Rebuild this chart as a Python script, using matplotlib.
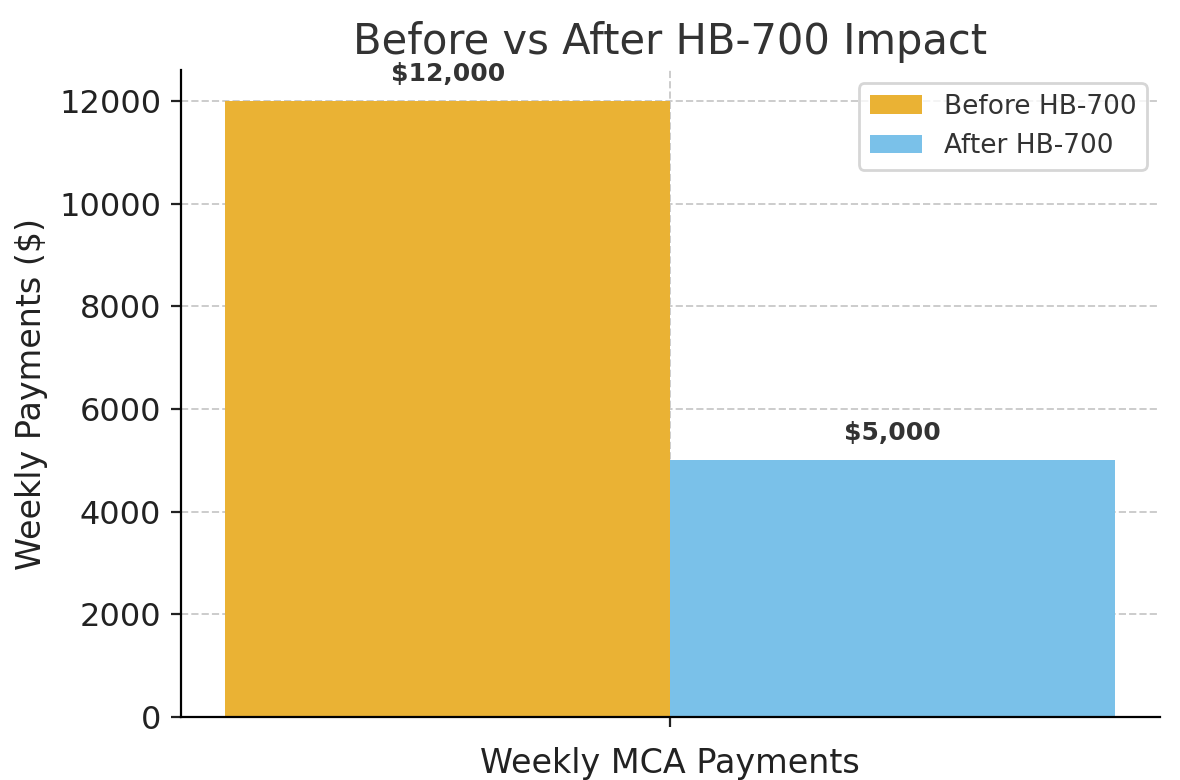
import matplotlib
matplotlib.use("Agg")
import matplotlib.pyplot as plt
import numpy as np

categories = ["Weekly MCA Payments"]
before = [12000]
after = [5000]
series_names = ["Before HB-700", "After HB-700"]

fig, ax = plt.subplots(figsize=(5.9, 3.9), dpi=200)
x = np.arange(len(categories))
w = 0.35
b1 = ax.bar(x - w/2, before, w, color="#EAB234", label=series_names[0])
b2 = ax.bar(x + w/2, after, w, color="#7AC1E9", label=series_names[1])
for bars in (b1, b2):
    for r in bars:
        ax.text(r.get_x() + r.get_width()/2, r.get_height() + 300, f"${r.get_height():,.0f}",
                ha="center", va="bottom", fontsize=9, fontweight="bold", color="#333333")
ax.set_xticks(x)
ax.set_xticklabels([""])
ax.set_xlabel(categories[0], fontsize=12, color="#222222")
ax.set_ylabel("Weekly Payments ($)", fontsize=12, color="#222222")
ax.set_title("Before vs After HB-700 Impact", fontsize=15, color="#333333")
ax.tick_params(labelsize=11.5, colors="#222222")
ax.grid(True, linestyle="--", color="#cccccc", linewidth=0.7)
ax.set_axisbelow(True)
for s in ("top", "right"):
    ax.spines[s].set_visible(False)
ax.legend(fontsize=9.5, loc="upper right", labelcolor="#333333")
fig.subplots_adjust(left=0.153, right=0.983, top=0.91, bottom=0.081)
fig.savefig("out.png")
